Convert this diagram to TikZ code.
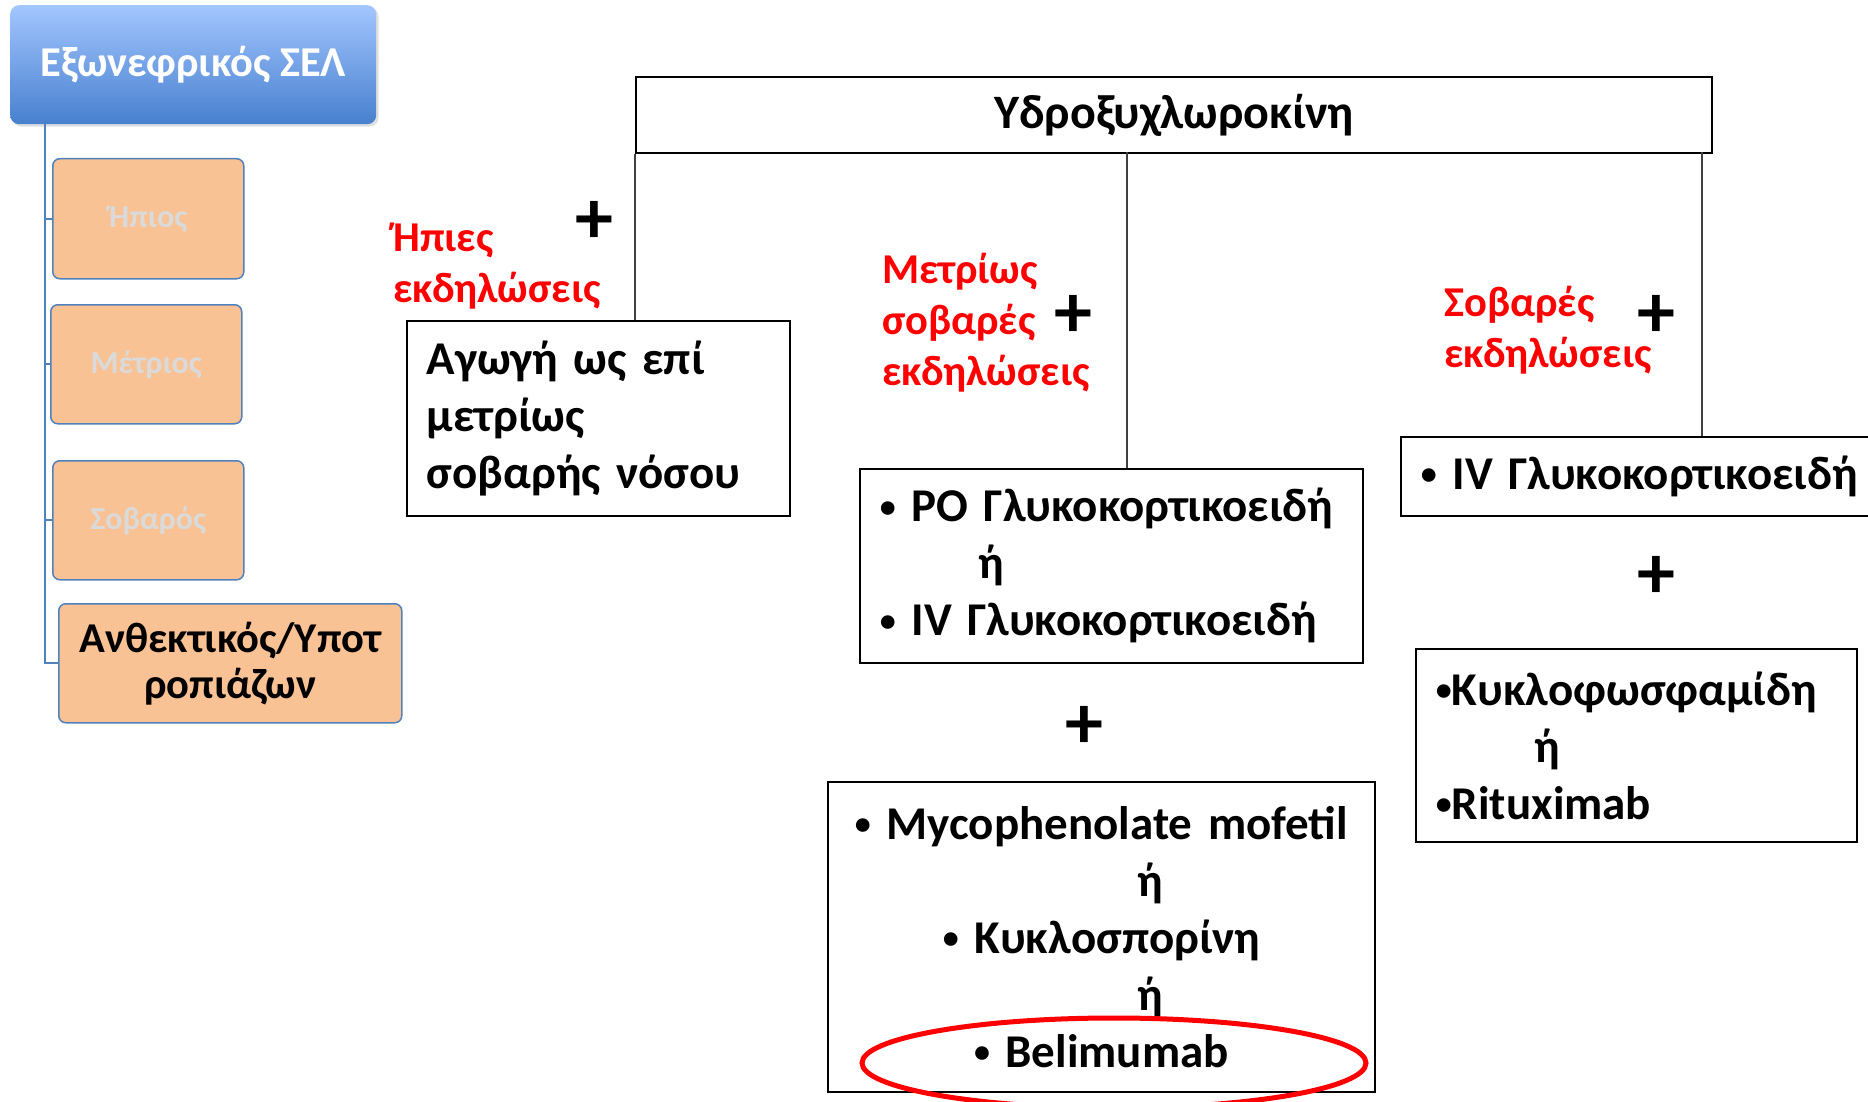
\documentclass[tikz,border=0pt]{standalone}
\usepackage{fontspec}
\setmainfont{Carlito}
\usetikzlibrary{shadows}
\definecolor{selblue}{HTML}{4F81BD}
\definecolor{seltop}{HTML}{A3C6FF}
\definecolor{selbot}{HTML}{4780CE}
\definecolor{peach}{HTML}{F9C294}
\definecolor{fadetxt}{HTML}{DADADA}
\definecolor{linkgray}{HTML}{404040}
\newcommand{\blt}{\raisebox{0.1em}{\fontsize{32}{32}\selectfont •}}
\tikzset{
  selhead/.style={anchor=north west, rounded corners=9pt, top color=seltop,
    bottom color=selbot, draw=none, text=white, minimum width=366pt,
    minimum height=119pt, drop shadow={opacity=0.25},
    font=\fontsize{42.5}{48}\selectfont\bfseries},
  level/.style={anchor=north west, draw=selblue, line width=1.5pt, fill=peach,
    rounded corners=7pt, align=center},
  tree/.style={draw=selblue, line width=2pt},
  boxed/.style={anchor=north west, draw=black, line width=1.8pt, inner xsep=20pt,
    font=\fontsize{47}{57}\selectfont\bfseries},
  redlbl/.style={anchor=west, inner sep=0pt, align=left, text=red,
    font=\fontsize{42.5}{51}\selectfont\bfseries},
  plus/.style={inner sep=0pt, font=\fontsize{76}{76}\selectfont\bfseries},
  link/.style={draw=linkgray, line width=1.5pt}
}
\begin{document}
\begin{tikzpicture}[x=1pt,y=-1pt]
\useasboundingbox (0,0) rectangle (1868,1102);
% severity tree on the left
\node[selhead] (sel) at (10,5) {Εξωνεφρικός ΣΕΛ};
\node[level, minimum width=191pt, minimum height=120pt, text=fadetxt,
  font=\fontsize{32}{36}\selectfont\bfseries] (hpios) at (52,158) {Ήπιος};
\node[level, minimum width=191pt, minimum height=119pt, text=fadetxt,
  font=\fontsize{32}{36}\selectfont\bfseries] (metrios) at (50,304) {Μέτριος};
\node[level, minimum width=191pt, minimum height=119pt, text=fadetxt,
  font=\fontsize{32}{36}\selectfont\bfseries] (sovaros) at (52,460) {Σοβαρός};
\node[level, minimum width=343pt, minimum height=119pt, text=black,
  font=\fontsize{42.5}{46}\selectfont\bfseries] (anthek) at (58,603)
  {Ανθεκτικός/Υποτ\\ροπιάζων};
\coordinate (trunk) at (45,124);
\foreach \n in {hpios,metrios,sovaros,anthek}
  \draw[tree] (trunk) |- (\n.west);

% treatment scheme
\node[boxed, minimum width=1076pt, minimum height=76pt, line width=2pt] (hcq) at (635,76) {};
\node (hcqtxt) at (hcq.center) {\fontsize{48}{52}\selectfont\bfseries Υδροξυχλωροκίνη};

\node[boxed, minimum height=195pt, text width=343pt, align=left] (agogi) at (406,320)
  {Αγωγή ως επί\\μετρίως\\σοβαρής νόσου};
\node[boxed, minimum height=194pt, text width=463pt, align=left] (po) at (859,468)
  {\mbox{\blt\ PO Γλυκοκορτικοειδή}\\\hspace*{2.1em}ή\\\mbox{\blt\ IV Γλυκοκορτικοειδή}};
\node[boxed, minimum height=310pt, text width=507pt, align=center] (myco) at (827,781)
  {\mbox{\blt\ Mycophenolate mofetil}\\\hspace*{2.1em}ή\\\blt\ Κυκλοσπορίνη\\\hspace*{2.1em}ή\\\blt\ Belimumab};
\node[boxed, minimum height=79pt, text width=430pt, align=left] (ivbox) at (1400,436)
  {\mbox{\blt\ IV Γλυκοκορτικοειδή}};
\node[boxed, minimum height=193pt, text width=401pt, align=left] (cyclo) at (1415,648)
  {\mbox{\blt Κυκλοφωσφαμίδη}\\\hspace*{2.1em}ή\\\blt Rituximab};

\coordinate (midtap) at (1127,152);
\coordinate (righttap) at (1702,152);
\draw[link] (hcq.south west) -- (hcq.south west |- agogi.north);
\draw[link] (midtap) -- (midtap |- po.north);
\draw[link] (righttap) -- (righttap |- ivbox.north);

\node[redlbl] (mild) at (393,266) {Ήπιες\\εκδηλώσεις};
\node[redlbl] (moder) at (882,323) {Μετρίως\\σοβαρές\\εκδηλώσεις};
\node[redlbl] (sev) at (1444,330) {Σοβαρές\\εκδηλώσεις};

\node[plus] (plmild) at (594,222) {+};
\node[plus] (plmoder) at (1073,316) {+};
\node[plus] (plsev) at (1656,316) {+};
\node[plus] (plpo) at (1084,727) {+};
\node[plus] (pliv) at (1656,577) {+};

\draw[red, line width=5pt] (1114,1063) ellipse [x radius=252pt, y radius=45pt];
\end{tikzpicture}
\end{document}
